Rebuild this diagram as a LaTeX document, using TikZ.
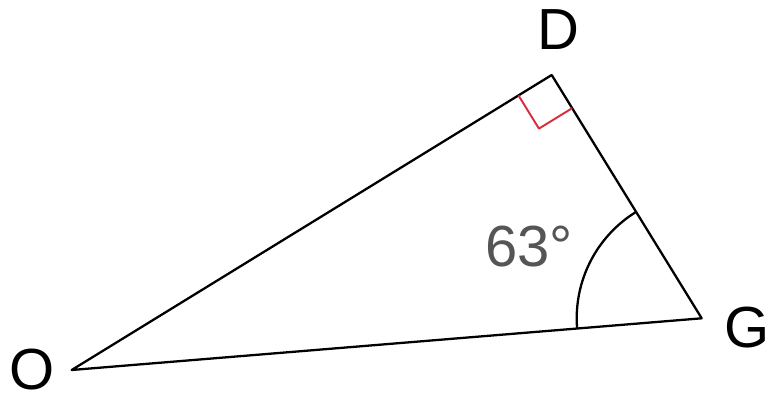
\documentclass[tikz,border=0pt]{standalone}
\usepackage{fontspec}
\setmainfont{Liberation Sans}
\usepackage{tikz}
\usetikzlibrary{angles,calc}
\definecolor{markred}{RGB}{215,45,60}
\definecolor{anglegray}{RGB}{85,85,85}

\begin{document}
\begin{tikzpicture}[line width=1.3pt,line join=round,font=\fontsize{33}{40}\selectfont,
  vertexlabel/.style={inner sep=0pt,text=black}]
\useasboundingbox (0,0) rectangle (15.5,8);
\coordinate (O) at (1.434,0.6);
\coordinate (D) at (11.034,6.5);
\coordinate (G) at (14.034,1.634);
\draw (O) -- (D) -- (G) -- cycle;
\path pic[draw=markred,line width=1.1pt,angle radius=0.78cm] {right angle=O--D--G};
\path pic[draw,angle radius=2.5cm] {angle=D--G--O};
\node[vertexlabel] (labelD) at (11.16,7.4) {D};
\node[vertexlabel] (labelO) at (0.64,0.6) {O};
\node[vertexlabel] (labelG) at (14.94,1.45) {G};
\node[vertexlabel,text=anglegray] (angleG) at (10.58,3.07) {63°};
\end{tikzpicture}
\end{document}
